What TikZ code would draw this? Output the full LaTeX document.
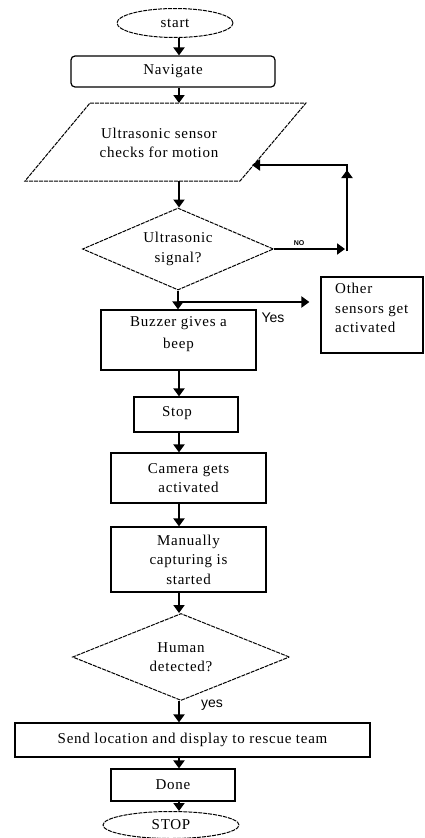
\documentclass[tikz,border=0pt]{standalone}
\usepackage{fontspec}
\setmainfont{Liberation Serif}[LetterSpace=5]
\newfontfamily\sansf{Liberation Sans}
\usetikzlibrary{shapes.geometric,arrows.meta}
\begin{document}
\begin{tikzpicture}[x=1pt,y=-1pt,
  every node/.style={font=\fontsize{15}{19.5}\selectfont, inner sep=0pt, align=center},
  boxst/.style={draw, line width=1.2pt, rectangle},
  dsh/.style={draw, line width=1pt, dash pattern=on 4pt off 1pt},
  arr/.style={line width=2.3pt, -{Triangle[width=11pt,length=8pt]}},
  lbl/.style={font=\sansf\fontsize{14}{16}\selectfont}]
\useasboundingbox (0,0) rectangle (424,838);

% nodes
\node[dsh, ellipse, minimum width=116, minimum height=29] (start) at (175,23) {start};
\node[boxst, rounded corners=4pt, minimum width=204, minimum height=31] (nav) at (173,71.5) {Navigate};
\draw[dsh] (90,103) coordinate (pTL) -- (306,103) coordinate (pTR) -- (240,181) coordinate (pBR) -- (25,181) coordinate (pBL) -- cycle;
\node (para) at (159,143) {Ultrasonic sensor\\checks for motion};
\node[dsh, diamond, aspect=2.33, minimum width=191, minimum height=82] (dec1) at (178,249) {Ultrasonic\\signal?};
\node[boxst, minimum width=102, minimum height=76] (other) at (372,315) {};
\node[anchor=north west, align=left] (othertxt) at (335,283) {Other\\sensors get\\activated};
\node[boxst, minimum width=155, minimum height=60] (buzz) at (178.5,340) {};
\node (buzztxt) at (178.5,334) {Buzzer gives a\\[2pt]beep};
\node[boxst, minimum width=104, minimum height=35] (stop) at (186,414.5) {};
\node (stoptxt) at (177,413) {Stop};
\node[boxst, minimum width=155, minimum height=50] (cam) at (188.5,478) {Camera gets\\activated};
\node[boxst, minimum width=155, minimum height=65] (man) at (188.5,559.5) {Manually\\capturing is\\started};
\node[dsh, diamond, aspect=2.5, minimum width=217, minimum height=87] (dec2) at (181,657) {Human\\detected?};
\node[boxst, minimum width=355, minimum height=34] (send) at (192.5,740) {Send location and display to rescue team};
\node[boxst, minimum width=124, minimum height=32] (done) at (173,785) {Done};
\node[dsh, ellipse, minimum width=136, minimum height=27] (stopE) at (171,825) {STOP};

% labels
\node[font=\sansf\bfseries\fontsize{7}{8}\selectfont] (nolbl) at (299,243) {NO};
\node[lbl] (yeslbl) at (273,318) {Yes};
\node[lbl] (yes2lbl) at (212,705) {yes};

% connectors
\coordinate (ax) at (179,0);
\draw[arr] (ax |- start.south) -- (ax |- nav.north);
\draw[arr] (ax |- nav.south) -- (ax |- pTL);
\draw[arr] (ax |- pBL) -- (ax |- dec1.north);
\draw[arr] (dec1.east) -- (345,249) coordinate (nR);
\coordinate (loopB) at (347,251);
\coordinate (loopT) at (347,165);
\draw[arr] (loopB) -- (347,170);
\draw[arr] (loopB) -- (loopT) -- (252,165) coordinate (pIn);
\draw[arr] (dec1.south) -- (dec1.south |- buzz.north);
\coordinate (yb) at (178,302);
\draw[arr, shorten >=11pt] (yb) -- (yb -| other.west);
\draw[arr] (ax |- buzz.south) -- (ax |- stop.north);
\draw[arr] (ax |- stop.south) -- (ax |- cam.north);
\draw[arr] (ax |- cam.south) -- (ax |- man.north);
\draw[arr] (ax |- man.south) -- (ax |- dec2.north);
\draw[arr] (ax |- dec2.south) -- (ax |- send.north);
\draw[arr] (ax |- send.south) -- (ax |- done.north);
\draw[arr] (ax |- done.south) -- (ax |- stopE.north);
\end{tikzpicture}
\end{document}
